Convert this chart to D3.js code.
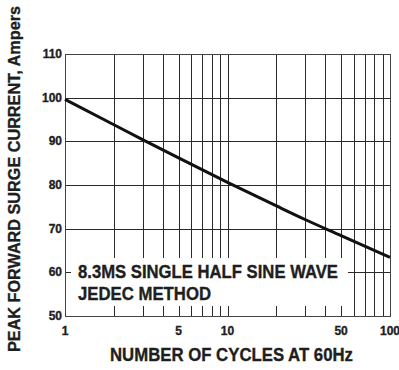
<!DOCTYPE html>
<html>
<head>
<meta charset="utf-8">
<script src="https://cdn.jsdelivr.net/npm/d3@7"></script>
<style>
  html, body { margin: 0; padding: 0; background: #fff; }
  svg { display: block; font-family: "Liberation Sans", Arial, sans-serif; font-weight: bold; }
  svg text { fill: #1e1e1e; stroke: #1e1e1e; stroke-width: 0.35px; }
</style>
</head>
<body>
<div id="chart"></div>
<script>
"use strict";

/* ── Data ── */
const cycles = [1, 2, 3, 5, 10, 20, 30, 50, 100];
const surge  = [99.6, 93.8, 90.4, 86.2, 80.6, 75.2, 72.1, 68.4, 63.4];
const xTickLabels = [1, 5, 10, 50, 100];
const yTickLabels = [50, 60, 70, 80, 90, 100, 110];
const noteLines = ["8.3MS SINGLE HALF SINE WAVE", "JEDEC METHOD"];

/* ── Dimensions ── */
const W = 399, H = 370;
const plot = { left: 65, right: 390, top: 54, bottom: 316 };

const svg = d3.select("#chart").append("svg")
  .attr("width", W).attr("height", H);

const x = d3.scaleLog().domain([1, 100]).range([plot.left, plot.right]);
const y = d3.scaleLinear().domain([50, 110]).range([plot.bottom, plot.top]);

/* ── Grid ── */
const grid = svg.append("g").attr("stroke", "#2a2a2a").attr("stroke-width", 1);

grid.selectAll("line.gx")
  .data(x.ticks())
  .join("line")
  .attr("class", "gx")
  .attr("x1", d => Math.round(x(d)) + 0.5).attr("x2", d => Math.round(x(d)) + 0.5)
  .attr("y1", plot.top).attr("y2", plot.bottom);

grid.selectAll("line.gy")
  .data(yTickLabels)
  .join("line")
  .attr("class", "gy")
  .attr("x1", plot.left).attr("x2", plot.right)
  .attr("y1", d => Math.round(y(d)) + 0.5).attr("y2", d => Math.round(y(d)) + 0.5);

/* ── Note box (white patch hides the grid behind the text) ── */
svg.append("rect")
  .attr("x", 71).attr("y", 258)
  .attr("width", 277).attr("height", 48)
  .attr("fill", "#fff");

/* ── Frame ── */
svg.append("rect")
  .attr("x", plot.left + 0.5).attr("y", plot.top + 0.5)
  .attr("width", plot.right - plot.left).attr("height", plot.bottom - plot.top)
  .attr("fill", "none").attr("stroke", "#444").attr("stroke-width", 1);

/* ── Curve ── */
const line = d3.line()
  .x((d, i) => x(cycles[i]))
  .y(d => y(d))
  .curve(d3.curveMonotoneX);

svg.append("path")
  .datum(surge)
  .attr("d", line)
  .attr("fill", "none")
  .attr("stroke", "#111")
  .attr("stroke-width", 3);

/* ── Note text ── */
svg.append("text")
  .attr("x", 78).attr("y", 278)
  .attr("font-size", "18px")
  .attr("textLength", 260).attr("lengthAdjust", "spacingAndGlyphs")
  .text(noteLines[0]);

svg.append("text")
  .attr("x", 78).attr("y", 300)
  .attr("font-size", "18px")
  .attr("textLength", 133).attr("lengthAdjust", "spacingAndGlyphs")
  .text(noteLines[1]);

/* ── Tick labels ── */
svg.append("g").selectAll("text")
  .data(yTickLabels)
  .join("text")
  .attr("x", 62).attr("y", d => y(d))
  .attr("dy", "0.33em")
  .attr("text-anchor", "end")
  .attr("font-size", "12px")
  .text(d => d);

svg.append("g").selectAll("text")
  .data(xTickLabels)
  .join("text")
  .attr("x", d => x(d)).attr("y", 335)
  .attr("text-anchor", "middle")
  .attr("font-size", "12px")
  .text(d => d);

/* ── Axis titles ── */
svg.append("text")
  .attr("x", 110).attr("y", 361)
  .attr("font-size", "18px")
  .attr("textLength", 243).attr("lengthAdjust", "spacingAndGlyphs")
  .text("NUMBER OF CYCLES AT 60Hz");

svg.append("text")
  .attr("transform", "translate(20,352) rotate(-90)")
  .attr("font-size", "16px")
  .attr("textLength", 346).attr("lengthAdjust", "spacingAndGlyphs")
  .text("PEAK FORWARD SURGE CURRENT, Ampers");
</script>
</body>
</html>
